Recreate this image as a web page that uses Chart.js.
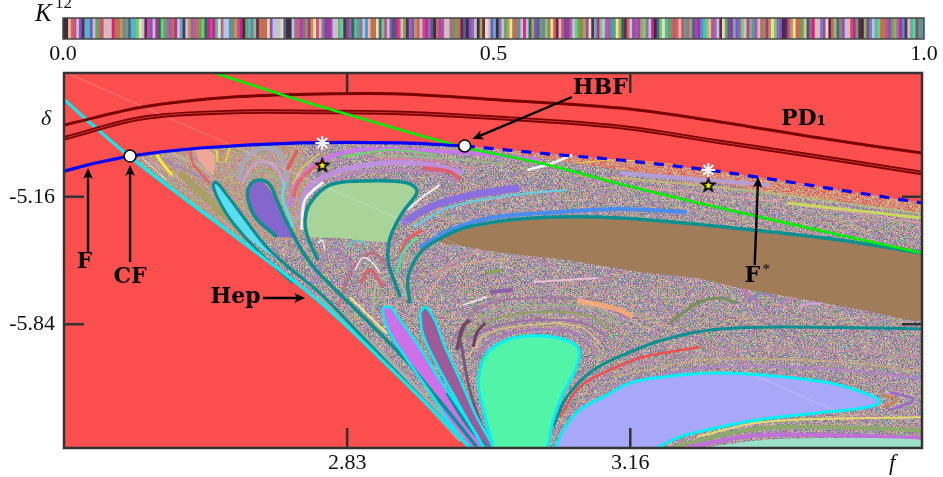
<!DOCTYPE html>
<html>
<head>
<meta charset="utf-8">
<style>
html, body { margin: 0; background: #fff; overflow: hidden; }
#wrap { position: relative; width: 943px; height: 477px; }
canvas { position: absolute; left: 0; top: 0; }
.tag { position: absolute; font-family: "Liberation Serif", serif; color: #111; line-height: 1; white-space: nowrap; }
.tag i { font-style: italic; }
.tag sup { position: absolute; left: 20px; top: -6px; font-size: 17px; line-height: 1; }
</style>
<script src="https://cdn.jsdelivr.net/npm/chart.js@4"></script>
</head>
<body>
<div id="wrap">
  <canvas id="main" width="943" height="477"></canvas>
  <canvas id="strip" width="943" height="72"></canvas>
  <div class="tag" style="left:35px;top:0px;font-size:25px"><i>K</i><sup>12</sup></div>
  <div class="tag" style="left:41px;top:107px;font-size:22px"><i>δ</i></div>
  <div class="tag" style="left:889px;top:451px;font-size:23px"><i>f</i></div>
</div>
<script>
// --- top strip: K^12 kneading sequence, one letter per stripe ---
const stripColors = {
    a: '#3a2f3a', b: '#c84f8f', c: '#e8b8a0', d: '#8a4fc0', e: '#4fb8c0', f: '#a08050',
    g: '#60a860', h: '#c0c0d8', i: '#d02090', j: '#506098', k: '#b0a050', l: '#e06050',
    m: '#9070b0', n: '#207060', o: '#f0e0a0', p: '#30a0d0', q: '#70d070', r: '#602860'
};
const stripPart1 = 'aaclbhdreedhgfbchcilfkmgjeeqohrbdhinqgmbfiherhkbmlgqnibieomhhpfkbiagemqrlflodhhhojaahmldbgikobcmjidhceqr';
const stripPart2 = 'jbnegmhpclfojqbhdnibcgrmdklhbimjaldbhcmfglrjadmhakrohdeamhgkoflpcihnkdjgmqfolrcbjimhqgfkdoreiqhmbpgoknrlhd';
const stripPart3 = 'bdkqmhiajqoegfblcbgmkjdipeqcbmhrogjiedmqcdkpbhlgikoqmdarbkolfgcnbichmdorlqjfdhcbigrakjmheqlfbdgkmiprceqjfp';
const stripLetters = (stripPart1 + stripPart2 + stripPart3).split('');
const stripTicks = [0, 0.5, 1];

// --- main panel axes ---
const xTicks = [2.83, 3.16];
const yTicks = [-5.16, -5.84];

// --- bifurcation curves, [f, delta] ---
const hep = [[2.501,-4.644],[2.536,-4.788],[2.577,-4.948],[2.641,-5.172],[2.705,-5.391],[2.798,-5.721],[2.886,-6.1],[2.973,-6.495]];
const fSolid = [[2.501,-5.023],[2.528,-4.99],[2.577,-4.943],[2.659,-4.9],[2.775,-4.873],[2.892,-4.873],[2.967,-4.889]];
const fDashed = [[2.967,-4.889],[3.078,-4.937],[3.148,-4.964],[3.251,-5.017],[3.308,-5.055],[3.42,-5.135],[3.5,-5.193]];
const pdUpper = [[2.501,-4.777],[2.592,-4.681],[2.697,-4.628],[2.798,-4.612],[2.892,-4.612],[3.008,-4.644],[3.148,-4.687],[3.265,-4.761],[3.381,-4.847],[3.5,-4.927]];
const pdLower = [[2.501,-4.847],[2.592,-4.74],[2.697,-4.708],[2.798,-4.708],[2.892,-4.713],[3.008,-4.74],[3.148,-4.788],[3.265,-4.868],[3.381,-4.948],[3.5,-5.033]];
const greenCurve = [[2.676,-4.5],[2.755,-4.617],[2.825,-4.713],[2.965,-4.895],[3.055,-4.98],[3.148,-5.092],[3.265,-5.22],[3.42,-5.38],[3.5,-5.46]];

// --- filled regions ---
const chaosWedge = [[2.577,-4.943],[2.659,-4.9],[2.775,-4.873],[2.892,-4.873],[2.967,-4.889],[3.078,-4.937],[3.148,-4.964],[3.251,-5.017],[3.308,-5.055],[3.42,-5.135],[3.5,-5.193],[3.5,-6.5],[2.973,-6.5],[2.886,-6.1],[2.798,-5.721],[2.705,-5.391],[2.641,-5.172]];
const warmStrip = [[2.967,-4.889],[3.078,-4.937],[3.148,-4.964],[3.251,-5.017],[3.308,-5.055],[3.42,-5.135],[3.5,-5.193],[3.5,-5.25],[3.251,-5.08],[3.078,-4.97]];
const fanBase = [[2.577,-4.948],[2.659,-4.905],[2.775,-4.879],[2.787,-5.04],[2.775,-5.39],[2.705,-5.391]];
const brown = [[2.935,-5.391],[2.97,-5.321],[3.047,-5.273],[3.148,-5.273],[3.303,-5.337],[3.404,-5.391],[3.5,-5.46],[3.5,-5.817],[3.431,-5.764],[3.354,-5.7],[3.288,-5.647],[3.238,-5.593],[3.171,-5.561],[3.086,-5.497],[3.012,-5.46],[2.942,-5.407]];
const greenBlob = [[2.784,-5.375],[2.781,-5.284],[2.787,-5.193],[2.81,-5.097],[2.848,-5.076],[2.895,-5.081],[2.91,-5.113],[2.91,-5.151],[2.895,-5.241],[2.882,-5.353],[2.878,-5.4],[2.82,-5.38]];
const purpleBlob = [[2.746,-5.375],[2.723,-5.284],[2.714,-5.177],[2.714,-5.124],[2.728,-5.071],[2.748,-5.177],[2.76,-5.3],[2.772,-5.38]];
const cyanBlob = [[2.674,-5.103],[2.677,-5.081],[2.69,-5.151],[2.709,-5.268],[2.734,-5.417],[2.748,-5.487],[2.725,-5.417],[2.697,-5.3],[2.682,-5.193]];
const mintBlob = [[3,-6.5],[2.988,-6.281],[2.983,-6.137],[2.993,-5.993],[3.016,-5.924],[3.04,-5.903],[3.07,-5.908],[3.093,-5.94],[3.101,-5.993],[3.096,-6.084],[3.082,-6.207],[3.07,-6.351],[3.064,-6.5]];
const lavender = [[3.072,-6.5],[3.084,-6.388],[3.101,-6.297],[3.133,-6.217],[3.16,-6.153],[3.198,-6.121],[3.253,-6.1],[3.315,-6.111],[3.393,-6.153],[3.439,-6.217],[3.451,-6.255],[3.431,-6.287],[3.378,-6.313],[3.308,-6.351],[3.249,-6.404],[3.218,-6.441],[3.191,-6.5]];
const paleMint = [[3.241,-6.5],[3.315,-6.457],[3.393,-6.447],[3.5,-6.457],[3.5,-6.5]];
const pinkLobe = [[2.872,-5.748],[2.88,-5.748],[2.889,-5.801],[2.911,-5.94],[2.938,-6.137],[2.97,-6.351],[2.988,-6.5],[2.973,-6.5],[2.953,-6.388],[2.927,-6.207],[2.9,-6.031],[2.88,-5.887],[2.872,-5.791],[2.872,-5.748]];
const mauveLobe = [[2.915,-5.78],[2.921,-5.748],[2.932,-5.817],[2.942,-5.94],[2.958,-6.1],[2.981,-6.335],[3,-6.5],[2.991,-6.5],[2.977,-6.404],[2.953,-6.207],[2.932,-6.031],[2.918,-5.887],[2.915,-5.78]];
const salmonLobe = [[2.653,-4.911],[2.664,-4.905],[2.676,-4.937],[2.674,-5.044],[2.667,-5.017],[2.656,-4.964]];

// --- region edges ---
const brownEdge = [[2.903,-5.727],[2.901,-5.588],[2.915,-5.46],[2.935,-5.391],[2.97,-5.321],[3.047,-5.273],[3.148,-5.273],[3.303,-5.337],[3.404,-5.391],[3.5,-5.46]];
const greenEdge = [[2.796,-5.497],[2.784,-5.375],[2.781,-5.284],[2.787,-5.193],[2.81,-5.097],[2.848,-5.076],[2.895,-5.081],[2.91,-5.113],[2.91,-5.151],[2.895,-5.241],[2.882,-5.353],[2.878,-5.428],[2.878,-5.513],[2.892,-5.695]];
const purpleEdge = [[2.748,-5.375],[2.723,-5.268],[2.714,-5.161],[2.717,-5.097],[2.728,-5.071],[2.74,-5.097],[2.748,-5.177],[2.76,-5.3],[2.779,-5.46],[2.796,-5.562],[2.837,-5.748],[2.895,-6.015],[2.953,-6.335],[2.981,-6.495]];
const cyanEdge = [[2.767,-5.62],[2.725,-5.444],[2.697,-5.3],[2.682,-5.193],[2.674,-5.103],[2.677,-5.081],[2.69,-5.151],[2.709,-5.268],[2.734,-5.417],[2.763,-5.54],[2.798,-5.673],[2.848,-5.908],[2.911,-6.207],[2.953,-6.404],[2.973,-6.495]];
const tealInner = [[2.946,-6.207],[2.97,-6.378],[2.992,-6.495]];
const tealLong = [[3.07,-6.388],[3.086,-6.228],[3.117,-6.084],[3.16,-5.988],[3.198,-5.924],[3.253,-5.871],[3.335,-5.855],[3.5,-5.865]];
const redLong = [[3.078,-6.335],[3.101,-6.175],[3.136,-6.084],[3.171,-6.02],[3.198,-5.993],[3.241,-5.961]];
const hepGrey = [[2.798,-5.695],[2.886,-6.073],[2.964,-6.457]];
const hepYellow = [[2.833,-5.695],[2.876,-5.887]];
const whiteTrace = [[2.503,-4.5],[3.41,-6.324]];

// --- fan stripes inside the chaotic region ---
const purpleBand = [[2.895,-5.3],[2.927,-5.215],[2.965,-5.161],[2.996,-5.135],[3.031,-5.113]];
const cyanBand = [[2.907,-5.321],[2.95,-5.215],[3.023,-5.151],[3.086,-5.124]];
const blueBand = [[2.915,-5.428],[2.95,-5.337],[2.997,-5.273],[3.078,-5.241],[3.148,-5.225],[3.226,-5.241]];
const redBand = [[2.892,-5.46],[2.9,-5.391],[2.918,-5.337]];
const mintBand = [[2.888,-5.567],[2.895,-5.46],[2.911,-5.375]];
const arcLilacTop = [[2.763,-5.215],[2.772,-5.087],[2.795,-4.98],[2.841,-4.911],[2.9,-4.911],[2.95,-4.921],[2.973,-4.927],[3.055,-4.964]];
const arcRed = [[2.767,-5.161],[2.775,-5.071],[2.802,-4.964]];
const arcLilac = [[2.775,-5.284],[2.783,-5.124],[2.814,-5.033],[2.872,-4.98],[2.927,-4.991],[2.965,-5.033]];
const arcPlum = [[2.79,-5.2],[2.82,-5.06],[2.872,-5.02],[2.93,-5.03],[2.96,-5.08]];
const arcSage = [[2.86,-4.94],[2.91,-4.945],[2.96,-4.96],[3.01,-4.985]];
const arcPink = [[2.85,-4.955],[2.91,-4.96],[2.955,-4.985],[2.98,-5.015]];
const arcWhite = [[2.777,-5.337],[2.781,-5.177],[2.802,-5.081]];
const arcWhite2 = [[2.9,-5.231],[2.918,-5.161],[2.938,-5.097]];
const arcGreen = [[2.822,-4.948],[2.88,-4.911],[2.935,-4.937]];
const arcRose = [[2.918,-5.007],[2.95,-5.028],[2.962,-5.071]];
const whiteTip = [[3.04,-5.017],[3.07,-4.98],[3.092,-4.937]];
const yellowThin = [[3.098,-4.98],[3.148,-4.964],[3.218,-4.991]];
const yellowGreen = [[3.343,-5.193],[3.5,-5.273]];
const lilacTop = [[3.148,-5.033],[3.251,-5.071],[3.323,-5.097]];
const rightStreak1 = [[3.15,-5.06],[3.3,-5.13],[3.5,-5.25]];
const rightStreak2 = [[3.15,-5.1],[3.3,-5.17],[3.5,-5.3]];
const rightStreak3 = [[3.1,-5.05],[3.25,-5.1],[3.4,-5.18]];
const aboveLav1 = [[3.14,-6.17],[3.25,-6.07],[3.4,-6.08],[3.5,-6.13]];
const aboveLav2 = [[3.14,-6.12],[3.25,-6.03],[3.4,-6.04],[3.5,-6.09]];
const aboveLav3 = [[3.15,-6.08],[3.25,-5.99],[3.4,-5.98],[3.5,-6.02]];
const peachPatch = [[3.098,-5.711],[3.148,-5.764],[3.163,-5.801]];
const overMint1 = [[2.97,-5.924],[3,-5.855],[3.051,-5.817],[3.105,-5.833],[3.133,-5.908]];
const overMint2 = [[2.965,-5.908],[3,-5.817],[3.051,-5.775],[3.11,-5.791],[3.136,-5.871]];
const ring3 = [[2.955,-5.99],[2.99,-5.79],[3.05,-5.74],[3.12,-5.76],[3.15,-5.85]];
const ring4 = [[2.95,-5.95],[2.985,-5.75],[3.05,-5.7],[3.12,-5.72],[3.16,-5.82]];
const ring5 = [[2.975,-6.05],[2.995,-5.93],[3.04,-5.875],[3.09,-5.88],[3.115,-5.96]];
const ring6 = [[2.97,-6.02],[2.99,-5.9],[3.04,-5.845],[3.1,-5.85],[3.125,-5.94]];
const midFan1 = [[2.82,-5.75],[2.835,-5.55],[2.86,-5.46],[2.88,-5.55]];
const midFan2 = [[2.79,-5.62],[2.805,-5.47],[2.82,-5.44],[2.835,-5.55]];
const midFan3 = [[2.86,-5.78],[2.865,-5.62],[2.885,-5.58],[2.9,-5.7]];
const upperFan1 = [[2.93,-5.5],[2.97,-5.4],[3.02,-5.36],[3.09,-5.36]];
const upperFan2 = [[2.925,-5.6],[2.97,-5.47],[3.03,-5.42],[3.05,-5.44]];
const upperFan3 = [[2.92,-5.72],[2.945,-5.56],[2.99,-5.5],[3.02,-5.49]];
const darkLobe1 = [[2.958,-5.977],[2.965,-5.855],[2.973,-5.817]];
const darkLobe2 = [[2.977,-5.961],[2.981,-5.887],[2.991,-5.833]];
const darkLobe3 = [[2.962,-5.924],[2.973,-6.191],[2.993,-6.457]];
const lobeCyan = [[2.83,-5.428],[2.841,-5.391],[2.854,-5.417]];
const lobeWhite = [[2.839,-5.551],[2.848,-5.487],[2.86,-5.513],[2.868,-5.567]];
const lobeSalmon = [[2.845,-5.62],[2.857,-5.551],[2.872,-5.641]];
const lobeWhite2 = [[2.796,-5.407],[2.801,-5.391],[2.804,-5.444]];
const swirl = [[2.965,-5.737],[2.993,-5.695]];
const plumStreak = [[2.996,-5.668],[3.023,-5.657]];
const oliveStreak = [[2.993,-5.567],[3.01,-5.551]];
const pinkStreak = [[3.047,-5.615],[3.121,-5.593]];
const rightOlive = [[3.206,-5.833],[3.238,-5.727],[3.265,-5.7],[3.284,-5.727]];
const rightSlate = [[3.296,-5.711],[3.315,-5.673],[3.331,-5.7]];
const rightTongue = [[3.335,-5.737],[3.35,-5.7]];
const rightTongue2 = [[3.358,-5.737],[3.385,-5.727]];
const rightPink = [[3.288,-5.647],[3.308,-5.721]];
const underOlive = [[3.21,-6.495],[3.315,-6.393],[3.5,-6.404]];
const underPurple = [[3.226,-6.495],[3.315,-6.431],[3.5,-6.447]];
const underYellow = [[3.238,-6.441],[3.315,-6.361],[3.5,-6.335]];
const nestA = [[3.455,-6.217],[3.471,-6.244],[3.455,-6.281]];
const nestB = [[3.463,-6.201],[3.49,-6.244],[3.463,-6.297]];
const fanYellow = [[2.608,-4.937],[2.618,-5.001],[2.626,-5.044]];
const fanWhite = [[2.591,-4.953],[2.62,-5.071]];
const fanYellow2 = [[2.678,-4.911],[2.679,-4.975]];
const fanYellow3 = [[2.693,-4.9],[2.688,-4.98]];
const fanRed = [[2.647,-4.921],[2.65,-4.98],[2.67,-5.087]];
const fanOlive = [[2.635,-5.033],[2.685,-5.247],[2.709,-5.337]];
const fanStripe1 = [[2.6,-4.97],[2.66,-5.14],[2.72,-5.37]];
const fanStripe2 = [[2.61,-4.95],[2.665,-5.07],[2.7,-5.2]];
const fanStripe3 = [[2.625,-4.93],[2.66,-5],[2.68,-5.09]];
const fanStripe4 = [[2.64,-4.92],[2.665,-5],[2.675,-5.06]];
const greyOuter = [[2.703,-5.071],[2.711,-4.964],[2.732,-4.9],[2.752,-4.937],[2.76,-5.087]];
const lilacInner = [[2.707,-5.087],[2.719,-5.001],[2.732,-4.975],[2.749,-5.017],[2.758,-5.124]];
const greenInner = [[2.711,-5.081],[2.725,-5.028],[2.74,-5.028],[2.752,-5.087]];
const cyanStripe = [[2.758,-5.081],[2.755,-5.161],[2.767,-5.321]];
const redGap = [[2.76,-5.017],[2.772,-4.911]];
const goldArc = [[2.767,-5.087],[2.779,-5.001],[2.798,-4.927]];

// --- marked points and callouts ---
const openCircles = [[2.577,-4.943],[2.967,-4.889]];
const whiteStars = [[2.801,-4.873],[3.251,-5.017]];
const blackStars = [[2.801,-4.991],[3.251,-5.097]];
const labelTexts = ['HBF', 'PD₁', 'F', 'CF', 'Hep'];
const labelSpots = [[3.125,-4.58],[3.362,-4.745],[2.524,-5.508],[2.577,-5.588],[2.7,-5.695]];
const arrowLines = [
    [2.528,-5.455,2.528,-5.007],
    [2.577,-5.508,2.577,-4.991],
    [2.732,-5.7,2.781,-5.7],
    [3.092,-4.628,2.976,-4.852],
    [3.305,-5.524,3.309,-5.055]
];
const fStarSpot = [3.308,-5.583];

// small repeating textures for the speckled parts of the map (fixed sequence)
const makeNoise = (colors, seed) => {
    const raw = document.createElement('canvas');
    raw.width = raw.height = 97;
    const r = raw.getContext('2d');
    let h = seed;
    for (let y = 0; y < 97; y++) {
        for (let x = 0; x < 97; x++) {
            h = (Math.imul(h, 1664525) + 1013904223) >>> 0;
            r.fillStyle = colors[(h >>> 18) % colors.length];
            r.fillRect(x, y, 1 + (h >>> 10) % 2, 1);
        }
    }
    // soften like the source image; draw the neighbours too so the tile edges stay opaque
    const tile = document.createElement('canvas');
    tile.width = tile.height = 97;
    const c = tile.getContext('2d');
    c.filter = 'blur(0.6px)';
    for (let dy = -97; dy <= 97; dy += 97) {
        for (let dx = -97; dx <= 97; dx += 97) c.drawImage(raw, dx, dy);
    }
    return c.createPattern(tile, 'repeat');
};
const ctxMain = document.getElementById('main').getContext('2d');
const mixNoise = makeNoise(['#c070d0','#78b090','#e08090','#d0c070','#7088c8','#a0a0a0','#d0c8c0','#987098','#88b068','#b8a0d8','#e0a880','#787070','#d088c0','#609898'], 17);
const warmNoise = makeNoise(['#f05858','#e87060','#f0a070','#c8b070','#d09090','#f05050','#b8a8c0','#e8c070','#e06068','#a8b090'], 91);
const fanNoise = makeNoise(['#b0a068','#a8a8b0','#c890a0','#98a070','#b888c8','#d0b090','#90a8a0','#e07068','#c8b860'], 43);

const starImage = (() => {
    const cv = document.createElement('canvas');
    cv.width = cv.height = 18;
    const c = cv.getContext('2d');
    const draw = (r, color) => {
        c.beginPath();
        for (let i = 0; i < 10; i++) {
            const rad = i % 2 ? r * 0.42 : r;
            const a = -Math.PI / 2 + i * Math.PI / 5;
            c.lineTo(9 + rad * Math.cos(a), 9.5 + rad * Math.sin(a));
        }
        c.closePath();
        c.fillStyle = color;
        c.fill();
    };
    draw(9, '#000');
    draw(4, '#ff0');
    return cv;
})();

const toPoints = a => a.map(p => ({ x: p[0], y: p[1] }));
const area = (pts, fillStyle, tension = 0.25) => ({
    data: toPoints(pts), showLine: true, fill: 'shape', backgroundColor: fillStyle,
    borderWidth: 0, borderColor: 'transparent', pointRadius: 0, tension
});
const stroke = (pts, color, width, dash) => ({
    data: toPoints(pts), showLine: true, fill: false, borderColor: color,
    borderWidth: width, borderDash: dash || [], pointRadius: 0, tension: 0.35
});
const marks = (pts, style, radius, fillStyle, edge, edgeWidth) => ({
    data: toPoints(pts), showLine: false, pointStyle: style, pointRadius: radius,
    backgroundColor: fillStyle, borderColor: edge, borderWidth: edgeWidth
});

const TEAL = '#0a9090';
const CYAN = '#00f0f8';
const DARKRED = '#7a0000';

// listed in painting order, reversed below because Chart.js paints dataset 0 last
const paintOrder = [
    area(chaosWedge, mixNoise, 0),
    area(warmStrip, warmNoise, 0),
    area(fanBase, fanNoise, 0),
    stroke(fanStripe1, 'rgba(200,160,168,0.8)', 3),
    stroke(fanStripe2, 'rgba(152,136,192,0.8)', 2),
    stroke(fanStripe3, 'rgba(192,176,160,0.9)', 3),
    stroke(fanStripe4, 'rgba(200,120,190,0.7)', 1.5),
    stroke(fanOlive, '#a8a060', 7),
    stroke(greyOuter, '#a8a8b8', 5),
    stroke(lilacInner, '#c8a0d0', 3),
    stroke(greenInner, '#90b890', 2),
    stroke(cyanStripe, '#60d8e8', 3),
    stroke(redGap, '#f05858', 3),
    stroke(goldArc, '#e8c060', 1.5),
    area(salmonLobe, '#efa897'),
    stroke(fanRed, '#f05858', 2),
    stroke(fanYellow, '#f8e830', 3),
    stroke(fanWhite, '#f4f0f0', 1),
    stroke(fanYellow2, '#e8d840', 2),
    stroke(fanYellow3, '#e8c840', 2),
    stroke(arcPlum, 'rgba(190,130,190,0.75)', 3),
    stroke(arcLilac, '#c090e0', 5),
    stroke(arcLilacTop, '#c878e8', 4),
    stroke(arcSage, 'rgba(150,190,130,0.8)', 2),
    stroke(arcPink, 'rgba(220,130,170,0.8)', 2),
    stroke(arcGreen, '#70d070', 2),
    stroke(arcRed, '#f06060', 3),
    stroke(arcWhite, '#f0eef8', 3),
    stroke(arcRose, '#e06070', 4),
    stroke(arcWhite2, '#f4f4f8', 2),
    stroke(whiteTip, '#f8f8fc', 2.5),
    stroke(yellowThin, '#e8d040', 1),
    stroke(rightStreak1, 'rgba(170,210,130,0.6)', 2),
    stroke(rightStreak2, 'rgba(230,160,170,0.6)', 2),
    stroke(rightStreak3, 'rgba(230,170,90,0.6)', 1.5),
    stroke(lilacTop, 'rgba(176,160,224,0.85)', 4),
    stroke(yellowGreen, '#c8d860', 3),
    stroke(purpleBand, '#8a6fe0', 7),
    stroke(cyanBand, '#60d0e8', 2),
    stroke(blueBand, '#4a8cf0', 4),
    stroke(redBand, '#e06060', 3),
    stroke(mintBand, '#50e0a0', 2.5),
    stroke(upperFan1, 'rgba(176,144,208,0.7)', 2.5),
    stroke(upperFan2, 'rgba(208,144,160,0.7)', 2.5),
    stroke(upperFan3, 'rgba(230,170,140,0.7)', 2),
    stroke(midFan1, 'rgba(192,104,128,0.7)', 3),
    stroke(midFan2, 'rgba(168,128,200,0.7)', 2.5),
    stroke(midFan3, 'rgba(168,192,160,0.8)', 2.5),
    stroke(ring4, 'rgba(160,110,160,0.65)', 2.5),
    stroke(ring3, 'rgba(150,180,130,0.7)', 2),
    stroke(peachPatch, '#f0a878', 5),
    stroke(overMint2, '#90a060', 2),
    stroke(overMint1, '#a070a8', 2),
    stroke(ring6, 'rgba(220,190,130,0.8)', 2),
    stroke(ring5, 'rgba(170,120,190,0.85)', 2.5),
    stroke(darkLobe1, '#704868', 4),
    stroke(darkLobe2, '#6a4060', 3),
    stroke(darkLobe3, '#7a5580', 3),
    stroke(lobeCyan, '#60c8d0', 2),
    stroke(lobeSalmon, '#d06a70', 4),
    stroke(lobeWhite, '#f8e8f0', 1.5),
    stroke(lobeWhite2, '#f8f0f0', 1.5),
    stroke(swirl, '#f4eef4', 1.5),
    stroke(plumStreak, '#8a60a8', 4),
    stroke(oliveStreak, '#88a850', 3),
    stroke(pinkStreak, '#e8c0d8', 2),
    stroke(rightOlive, '#789060', 3),
    stroke(rightSlate, '#8888b0', 3),
    stroke(rightTongue, '#c080c0', 2),
    stroke(rightTongue2, '#d8a0d8', 2),
    stroke(rightPink, '#d070c0', 1.5),
    stroke(aboveLav3, 'rgba(200,140,170,0.55)', 2),
    stroke(aboveLav2, 'rgba(210,180,120,0.6)', 2),
    stroke(aboveLav1, 'rgba(180,130,210,0.7)', 2.5),
    stroke(underYellow, '#e8d870', 2),
    stroke(underOlive, '#8daa6c', 4),
    stroke(underPurple, '#c070d8', 4),
    stroke(nestB, '#a060d0', 2),
    stroke(nestA, '#d08040', 2),
    area(brown, '#a07d58', 0.15),
    area(greenBlob, '#a8d49a'),
    area(purpleBlob, '#8466cc'),
    area(cyanBlob, '#58def0'),
    area(mintBlob, '#52f5a8'),
    area(lavender, '#a8a8f8'),
    area(paleMint, '#9be0c8'),
    area(pinkLobe, '#d070e8', 0.2),
    area(mauveLobe, '#a05a98', 0.2),
    stroke(whiteTrace, 'rgba(255,255,255,0.35)', 0.7),
    stroke(hepGrey, '#a8a8a8', 7),
    stroke(hepYellow, '#f0e890', 2),
    stroke(brownEdge, TEAL, 3.5),
    stroke(greenEdge, TEAL, 3.5),
    stroke(purpleEdge, TEAL, 3.5),
    stroke(cyanEdge, TEAL, 3),
    stroke(tealInner, TEAL, 3),
    stroke(tealLong, TEAL, 3),
    stroke(redLong, '#f05050', 2.5),
    stroke(mintBlob, CYAN, 3),
    stroke(lavender, CYAN, 3),
    stroke(pinkLobe, CYAN, 2.5),
    stroke(mauveLobe, CYAN, 2.5),
    stroke(hep, CYAN, 3),
    stroke(pdUpper, DARKRED, 3),
    stroke(pdLower, DARKRED, 4.5),
    stroke(pdLower, '#e04040', 0.8),
    stroke(greenCurve, '#00ee00', 2.6),
    stroke(fSolid, '#0000ff', 3.2),
    stroke(fDashed, '#0000ff', 3.2, [10, 9]),
    marks(whiteStars, 'star', 7, '#fff', '#fff', 2),
    marks(blackStars, starImage, 9, '#000', '#000', 0),
    marks(openCircles, 'circle', 6, '#fff', '#000', 1.6)
];

// panel background, inward ticks, frame
const panelPlugin = {
    id: 'panel',
    beforeDatasetsDraw(chart) {
        const { ctx, chartArea: a } = chart;
        ctx.fillStyle = '#fe4f4f';
        ctx.fillRect(a.left, a.top, a.right - a.left, a.bottom - a.top);
    },
    afterDatasetsDraw(chart) {
        const { ctx, chartArea: a, scales } = chart;
        ctx.save();
        ctx.strokeStyle = '#333';
        ctx.lineWidth = 2.5;
        ctx.strokeRect(a.left, a.top, a.right - a.left, a.bottom - a.top);
        ctx.beginPath();
        scales.x.ticks.forEach(t => {
            const px = scales.x.getPixelForValue(t.value);
            ctx.moveTo(px, a.bottom); ctx.lineTo(px, a.bottom - 20);
            ctx.moveTo(px, a.top); ctx.lineTo(px, a.top + 20);
        });
        scales.y.ticks.forEach(t => {
            const py = scales.y.getPixelForValue(t.value);
            ctx.moveTo(a.left, py); ctx.lineTo(a.left + 20, py);
            ctx.moveTo(a.right, py); ctx.lineTo(a.right - 20, py);
        });
        ctx.stroke();
        ctx.restore();
    }
};

// arrows and bold labels, placed in data units
const calloutPlugin = {
    id: 'callouts',
    afterDraw(chart) {
        const { ctx, scales: { x, y } } = chart;
        ctx.save();
        ctx.strokeStyle = ctx.fillStyle = '#000';
        ctx.lineWidth = 2.4;
        arrowLines.forEach(([x0, y0, x1, y1]) => {
            const ax = x.getPixelForValue(x0), ay = y.getPixelForValue(y0);
            const bx = x.getPixelForValue(x1), by = y.getPixelForValue(y1);
            const ang = Math.atan2(by - ay, bx - ax);
            ctx.beginPath();
            ctx.moveTo(ax, ay);
            ctx.lineTo(bx - 6 * Math.cos(ang), by - 6 * Math.sin(ang));
            ctx.stroke();
            ctx.beginPath();
            ctx.moveTo(bx, by);
            ctx.lineTo(bx - 12 * Math.cos(ang - 0.42), by - 12 * Math.sin(ang - 0.42));
            ctx.lineTo(bx - 8 * Math.cos(ang), by - 8 * Math.sin(ang));
            ctx.lineTo(bx - 12 * Math.cos(ang + 0.42), by - 12 * Math.sin(ang + 0.42));
            ctx.closePath();
            ctx.fill();
        });
        ctx.font = 'bold 22px "DejaVu Serif"';
        ctx.textAlign = 'center';
        ctx.textBaseline = 'middle';
        labelTexts.forEach((txt, i) => {
            ctx.fillText(txt, x.getPixelForValue(labelSpots[i][0]), y.getPixelForValue(labelSpots[i][1]));
        });
        const fx = x.getPixelForValue(fStarSpot[0]), fy = y.getPixelForValue(fStarSpot[1]);
        ctx.fillText('F', fx - 5, fy);
        ctx.font = '15px "Liberation Serif"';
        ctx.fillText('*', fx + 9, fy - 6);
        ctx.restore();
    }
};

const stripFrame = {
    id: 'stripFrame',
    afterDatasetsDraw(chart) {
        const { ctx, chartArea: a } = chart;
        ctx.save();
        ctx.strokeStyle = '#444';
        ctx.lineWidth = 1.5;
        ctx.strokeRect(a.left, a.top, a.right - a.left, a.bottom - a.top);
        ctx.restore();
    }
};

const tickFont = { family: '"Liberation Serif"', size: 22 };

new Chart(ctxMain, {
    type: 'scatter',
    data: { datasets: paintOrder.slice().reverse() },
    plugins: [panelPlugin, calloutPlugin],
    options: {
        responsive: false,
        animation: false,
        events: [],
        layout: { padding: { top: 73, right: 21 } },
        plugins: { legend: { display: false }, tooltip: { enabled: false } },
        scales: {
            x: {
                type: 'linear', min: 2.5, max: 3.5,
                grid: { display: false, drawTicks: false }, border: { display: false },
                afterBuildTicks: s => { s.ticks = xTicks.map(v => ({ value: v })); },
                afterFit: s => { s.height = 29; },
                ticks: { color: '#111', font: tickFont, padding: 2, maxRotation: 0, callback: v => v.toFixed(2) }
            },
            y: {
                type: 'linear', min: -6.5, max: -4.5,
                grid: { display: false, drawTicks: false }, border: { display: false },
                afterBuildTicks: s => { s.ticks = yTicks.map(v => ({ value: v })); },
                afterFit: s => { s.width = 64; },
                ticks: { color: '#111', font: tickFont, padding: 9, callback: v => v.toFixed(2) }
            }
        }
    }
});

new Chart(document.getElementById('strip'), {
    type: 'bar',
    data: {
        labels: stripLetters,
        datasets: [{
            data: stripLetters.map(() => 1),
            xAxisID: 'x',
            backgroundColor: stripLetters.map(k => stripColors[k]),
            barPercentage: 1,
            categoryPercentage: 1
        }]
    },
    plugins: [stripFrame],
    options: {
        responsive: false,
        animation: false,
        events: [],
        layout: { padding: { top: 18, left: 63, right: 19 } },
        plugins: { legend: { display: false }, tooltip: { enabled: false } },
        scales: {
            x: { display: false },
            y: { display: false, min: 0, max: 1 },
            position: {
                type: 'linear', axis: 'x', position: 'bottom', min: 0, max: 1, offset: false,
                grid: { display: false, drawTicks: false, offset: false }, border: { display: false },
                afterBuildTicks: s => { s.ticks = stripTicks.map(v => ({ value: v })); },
                afterFit: s => { s.height = 33; },
                ticks: { color: '#111', font: tickFont, padding: 2, maxRotation: 0, callback: v => v.toFixed(1) }
            }
        }
    }
});
</script>
</body>
</html>
